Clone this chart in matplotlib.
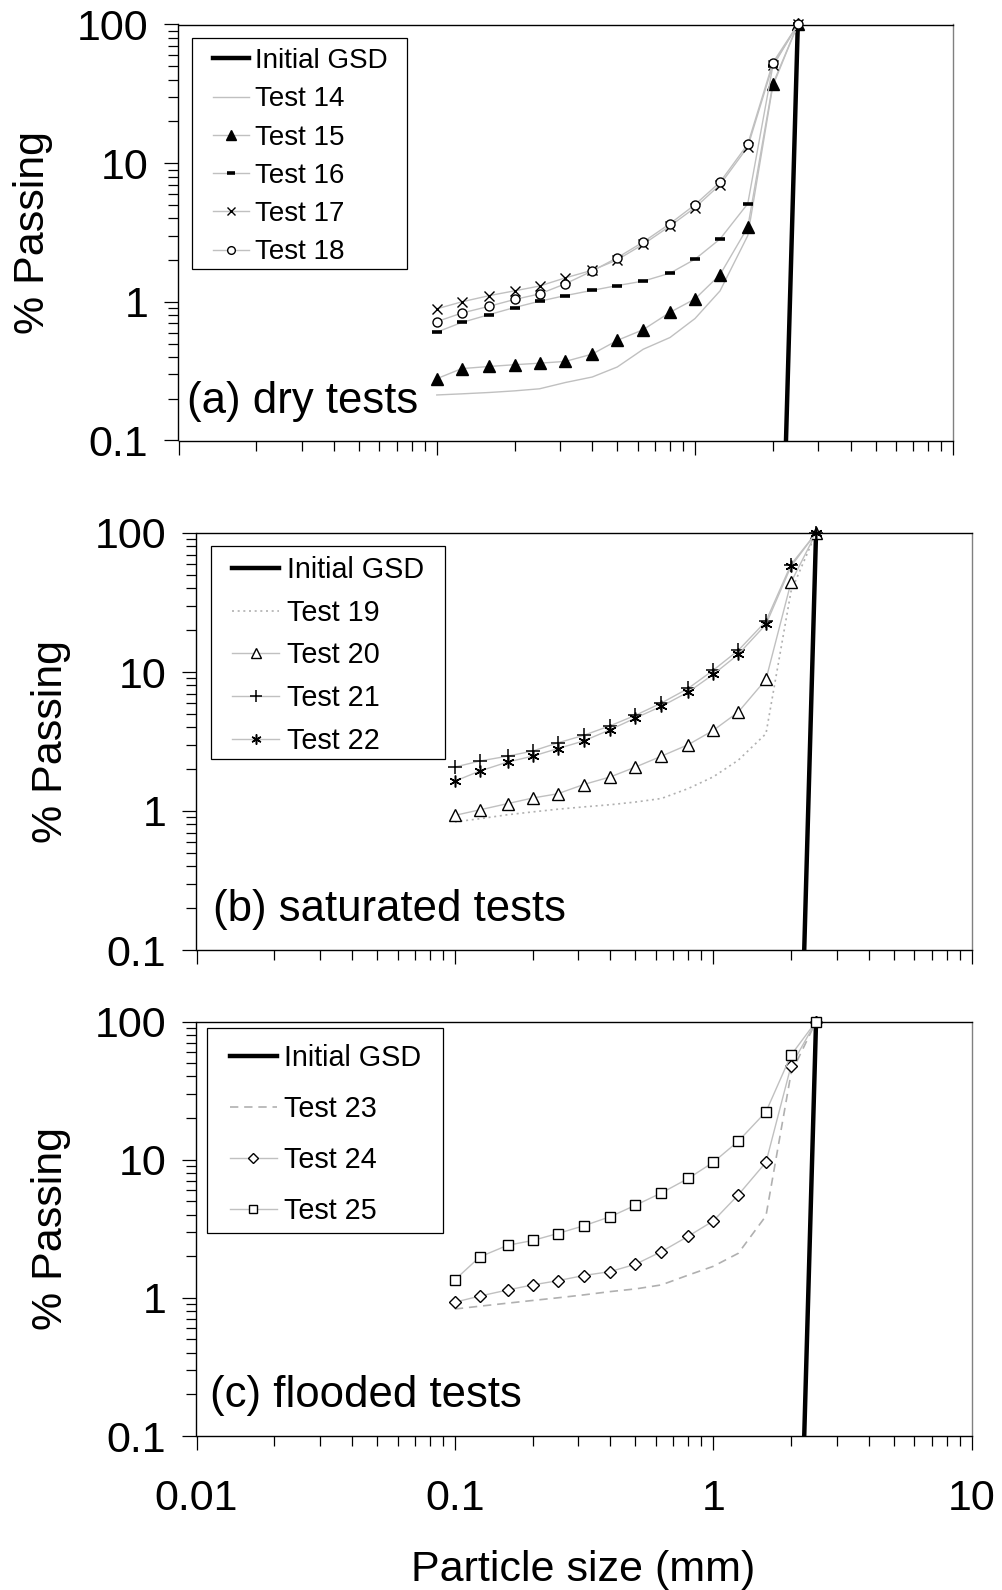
import matplotlib
matplotlib.use('Agg')
import matplotlib.pyplot as plt
from matplotlib.ticker import FixedLocator, FixedFormatter, LogLocator, NullFormatter
from matplotlib.patches import Rectangle

plt.rcParams['font.family'] = ['Liberation Sans', 'DejaVu Sans']

# ---------------- data ----------------
sieve = [0.1, 0.125, 0.16, 0.2, 0.25, 0.315, 0.4, 0.5, 0.63, 0.8, 1.0, 1.25, 1.6, 2.0, 2.5]
gsd_size = [2.25, 2.5]
gsd_passing = [0.1, 100]

# (a) dry tests
test14 = [0.213, 0.217, 0.222, 0.228, 0.236, 0.262, 0.287, 0.339, 0.455, 0.553, 0.758, 1.2, 3.0, 36, 100]
test15 = [0.279, 0.33, 0.342, 0.352, 0.361, 0.372, 0.42, 0.527, 0.63, 0.84, 1.05, 1.57, 3.45, 37.1, 100]
test16 = [0.605, 0.71, 0.81, 0.91, 1.01, 1.11, 1.21, 1.31, 1.41, 1.61, 2.03, 2.84, 5.1, 50, 100]
test17 = [0.89, 1.0, 1.11, 1.2, 1.3, 1.49, 1.69, 2.01, 2.6, 3.52, 4.78, 7.0, 13.1, 50.9, 100]
test18 = [0.72, 0.83, 0.93, 1.04, 1.14, 1.35, 1.67, 2.08, 2.7, 3.66, 5.02, 7.3, 13.7, 52.9, 100]

# (b) saturated tests
test19 = [0.835, 0.88, 0.94, 0.985, 1.03, 1.07, 1.11, 1.16, 1.23, 1.45, 1.76, 2.32, 3.6, 38, 100]
test20 = [0.93, 1.02, 1.13, 1.24, 1.33, 1.55, 1.76, 2.07, 2.48, 3.0, 3.8, 5.15, 8.84, 44.2, 100]
test21 = [2.07, 2.29, 2.48, 2.7, 3.09, 3.5, 4.11, 4.88, 5.98, 7.62, 10.3, 14.3, 23.2, 59.3, 100]
test22 = [1.64, 1.94, 2.25, 2.48, 2.81, 3.19, 3.85, 4.67, 5.66, 7.17, 9.6, 13.4, 22.0, 57.6, 100]

# (c) flooded tests
test23 = [0.83, 0.87, 0.915, 0.957, 1.0, 1.05, 1.11, 1.16, 1.24, 1.46, 1.69, 2.1, 3.92, 42, 100]
test24 = [0.93, 1.03, 1.14, 1.24, 1.33, 1.45, 1.55, 1.75, 2.16, 2.79, 3.6, 5.56, 9.57, 47.7, 100]
test25 = [1.35, 1.98, 2.4, 2.6, 2.92, 3.32, 3.87, 4.68, 5.74, 7.31, 9.57, 13.6, 22.2, 57.1, 100]

x_ticks = [0.01, 0.1, 1, 10]
x_tick_labels = ['0.01', '0.1', '1', '10']
y_ticks = [0.1, 1, 10, 100]
y_tick_labels = ['0.1', '1', '10', '100']

panel_titles = ['(a) dry tests', '(b) saturated tests', '(c) flooded tests']
x_label = 'Particle size (mm)'
y_label = '% Passing'

# ---------------- layout ----------------
W, H = 1003, 1590
fig = plt.figure(figsize=(W / 100, H / 100), dpi=100)


def px_axes(l, r, t, b):
    return fig.add_axes([l / W, 1 - b / H, (r - l) / W, (b - t) / H])


ax_a = px_axes(178.5, 953.3, 24.5, 440.5)
ax_b = px_axes(196.5, 971.6, 533.0, 950.0)
ax_c = px_axes(196.5, 971.6, 1021.5, 1436.0)

GRAY = '#c0c0c0'
BIG = 31


def style_axes(ax, show_xlabels):
    ax.set_xscale('log')
    ax.set_yscale('log')
    ax.set_xlim(x_ticks[0], x_ticks[-1])
    ax.set_ylim(y_ticks[0], y_ticks[-1])
    ax.xaxis.set_major_locator(FixedLocator(x_ticks))
    ax.xaxis.set_major_formatter(FixedFormatter(x_tick_labels))
    ax.yaxis.set_major_locator(FixedLocator(y_ticks))
    ax.yaxis.set_major_formatter(FixedFormatter(y_tick_labels))
    ax.xaxis.set_minor_locator(LogLocator(base=10, subs=range(2, 10), numticks=30))
    ax.yaxis.set_minor_locator(LogLocator(base=10, subs=range(2, 10), numticks=30))
    ax.xaxis.set_minor_formatter(NullFormatter())
    ax.yaxis.set_minor_formatter(NullFormatter())
    ax.tick_params(which='major', direction='out', length=9.8, width=0.9, labelsize=BIG, colors='black')
    ax.tick_params(which='minor', direction='out', length=7.3, width=0.9)
    ax.tick_params(axis='y', which='major', pad=12)
    ax.tick_params(axis='x', which='major', pad=21, labelbottom=show_xlabels)
    ax.tick_params(top=False, right=False)
    for sp in ax.spines.values():
        sp.set_linewidth(1.0)
        sp.set_color('black')
    ax.spines['right'].set_color('#808080')
    ax.set_ylabel(y_label, fontsize=BIG, va='center')
    ax.yaxis.set_label_coords(-0.1875, 0.5)


def gsd(ax):
    ax.plot(gsd_size, gsd_passing, color='black', lw=3.2, label='Initial GSD', zorder=2)


def series(ax, y, label, marker=None, ms=7, mfc='white', mew=1.0, ls='-', color=GRAY, lw=1.0):
    ax.plot(sieve, y, color=color, lw=lw, ls=ls, marker=marker, ms=ms, mfc=mfc,
            mec='black', mew=mew, label=label, clip_on=False, zorder=3)


def frame_legend(ax, box_px, anchor_px, fontsize, labelspacing, handlelength, handletextpad):
    # box_px: (left, top, right, bottom) figure pixel coords of the legend frame
    l, t, r, b = box_px
    rect = Rectangle((l / W, 1 - b / H), (r - l) / W, (b - t) / H, transform=fig.transFigure,
                     facecolor='white', edgecolor='black', lw=0.9, zorder=4)
    ax.add_patch(rect)
    rect.set_clip_on(False)
    ax_x, ax_y = anchor_px
    leg = ax.legend(loc='upper left', bbox_to_anchor=(ax_x / W, 1 - ax_y / H),
                    bbox_transform=fig.transFigure, frameon=False, borderpad=0,
                    borderaxespad=0, fontsize=fontsize, labelspacing=labelspacing,
                    handlelength=handlelength, handletextpad=handletextpad, markerscale=0.85)
    leg.set_zorder(5)
    return leg


# ---------------- panel (a) ----------------
style_axes(ax_a, False)
gsd(ax_a)
series(ax_a, test14, 'Test 14')
series(ax_a, test15, 'Test 15', marker='^', ms=8, mfc='black')
series(ax_a, test16, 'Test 16', marker='_', ms=7.5, mew=2.6)
series(ax_a, test17, 'Test 17', marker='x', ms=7.5, mew=1.0)
series(ax_a, test18, 'Test 18', marker='o', ms=6.5, mew=1.0)
ax_a.text(0.011, 0.067, panel_titles[0], transform=ax_a.transAxes, fontsize=31.5,
          ha='left', va='baseline', zorder=6)
frame_legend(ax_a, (192.3, 38.0, 407.3, 268.7), (212.7, 48.2), 20, 0.44, 1.3, 0.22)

# ---------------- panel (b) ----------------
style_axes(ax_b, False)
gsd(ax_b)
series(ax_b, test19, 'Test 19', ls=(0, (1.2, 2.2)), color='#b0b0b0', lw=1.2)
series(ax_b, test20, 'Test 20', marker='^', ms=9)
series(ax_b, test21, 'Test 21', marker='+', ms=9.5, mew=1.1)
series(ax_b, test22, 'Test 22', marker=(6, 2, 0), ms=8.5, mew=1.1)
ax_b.text(0.021, 0.069, panel_titles[1], transform=ax_b.transAxes, fontsize=31.5,
          ha='left', va='baseline', zorder=6)
frame_legend(ax_b, (210.7, 546.0, 444.7, 759.0), (232.3, 556.0), 20.7, 0.51, 1.62, 0.27)

# ---------------- panel (c) ----------------
style_axes(ax_c, True)
gsd(ax_c)
series(ax_c, test23, 'Test 23', ls=(0, (5, 3.5)), color='#b0b0b0', lw=1.2)
series(ax_c, test24, 'Test 24', marker='D', ms=6.2)
series(ax_c, test25, 'Test 25', marker='s', ms=7.6)
ax_c.text(0.017, 0.069, panel_titles[2], transform=ax_c.transAxes, fontsize=31.5,
          ha='left', va='baseline', zorder=6)
frame_legend(ax_c, (207.3, 1028.3, 443.2, 1233.0), (230.0, 1044.0), 20.7, 0.80, 1.62, 0.27)
ax_c.set_xlabel(x_label, fontsize=BIG, va='top')
ax_c.xaxis.set_label_coords(0.499, -0.276)

fig.savefig('out.png', dpi=100)
